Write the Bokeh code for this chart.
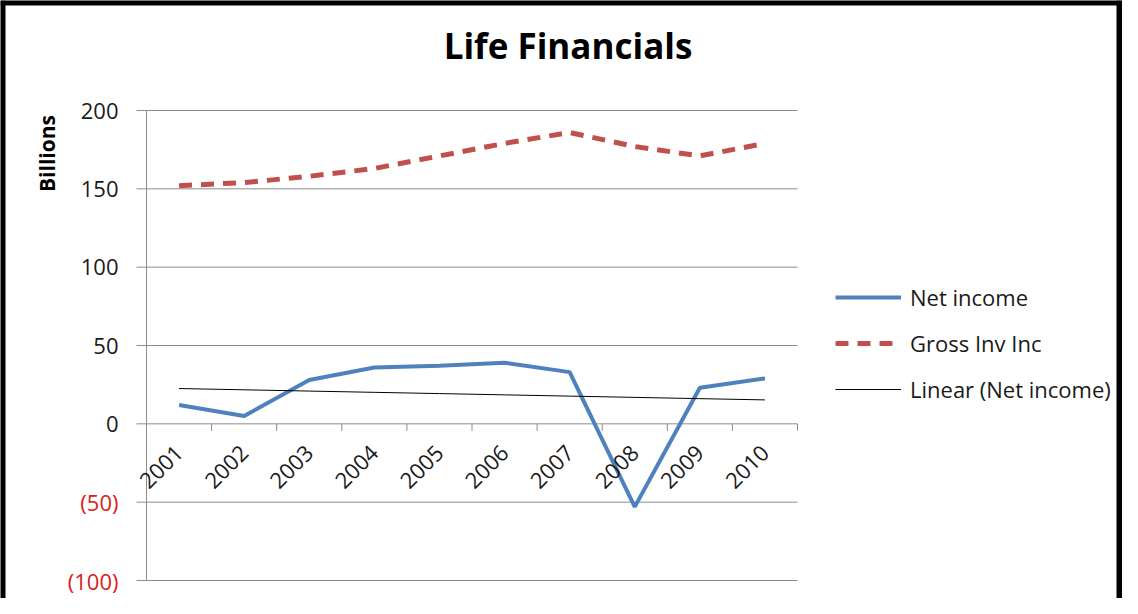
import numpy as np
from bokeh.plotting import figure
from bokeh.models import Range1d, LabelSet, Label, ColumnDataSource, Legend, LegendItem, Span
from bokeh.core.properties import value
from bokeh.embed import file_html
from bokeh.resources import INLINE

years = ["2001", "2002", "2003", "2004", "2005", "2006", "2007", "2008", "2009", "2010"]
net_income = [12, 5, 28, 36, 37, 39, 33, -53, 23, 29]
gross_inv_inc = [152, 154, 158, 163, 171, 179, 186, 177, 171, 179]
y_ticks = [-100, -50, 0, 50, 100, 150, 200]
y_tick_labels = ["(100)", "(50)", "0", "50", "100", "150", "200"]

FONT = "Open Sans"
GRID = "#8c8c8c"
TXT = "#1a1a1a"
NEG = "#d9211d"

# canvas geometry (pixels) -> plot area placement
W, H = 1122, 598
PA_LEFT, PA_RIGHT, PA_TOP, PA_BOTTOM = 146, 797, 110, 580
n = len(years)
ymin, ymax = min(y_ticks), max(y_ticks)
kx = (PA_RIGHT - PA_LEFT) / n
ky = (PA_BOTTOM - PA_TOP) / (ymax - ymin)
x_start = -PA_LEFT / kx
x_end = x_start + W / kx
y_end = ymax + PA_TOP / ky
y_start = y_end - H / ky

xpos = [i + 0.5 for i in range(n)]
slope, intercept = np.polyfit(xpos, net_income, 1)
trend = [slope * x + intercept for x in xpos]

p = figure(width=W, height=H, x_range=Range1d(x_start, x_end), y_range=Range1d(y_start, y_end),
           x_axis_type=None, y_axis_type=None, output_backend="svg", toolbar_location=None,
           min_border=0)
p.outline_line_color = None
p.grid.visible = False

# black chart border (top, left, right)
p.add_layout(Span(location=x_start, dimension="height", line_color="black", line_width=10))
p.add_layout(Span(location=x_end, dimension="height", line_color="black", line_width=12))
p.add_layout(Span(location=y_end, dimension="width", line_color="black", line_width=10))

# gridlines, y axis line, tick marks
p.segment(x0=0, x1=n, y0=y_ticks, y1=y_ticks, line_color=GRID, line_width=1)
p.ray(x=0, y=y_ticks, length=10, length_units="screen", angle=np.pi, line_color=GRID, line_width=1)
p.segment(x0=0, x1=0, y0=ymin, y1=ymax, line_color=GRID, line_width=1)
p.ray(x=list(range(1, n + 1)), y=0, length=7, length_units="screen", angle=-np.pi / 2,
      line_color=GRID, line_width=1)

# y tick labels (negatives in red)
ys = ColumnDataSource(dict(y=y_ticks, text=y_tick_labels,
                           color=[NEG if t < 0 else TXT for t in y_ticks]))
p.add_layout(LabelSet(x=0, y="y", text="text", source=ys, x_offset=-28, text_align="right",
                      text_baseline="middle", text_font=value(FONT), text_font_size="22px",
                      text_color="color"))

# x category labels
xs = ColumnDataSource(dict(x=xpos, text=years))
p.add_layout(LabelSet(x="x", y=0, text="text", source=xs, x_offset=0, y_offset=-25, angle=np.pi / 4,
                      text_align="right", text_baseline="middle", text_font=value(FONT),
                      text_font_size="22px", text_color=TXT))

r_net = p.line(xpos, net_income, line_color="#4F81BD", line_width=4)
r_gross = p.line(xpos, gross_inv_inc, line_color="#C0504D", line_width=5, line_dash="13 9")
r_trend = p.line(xpos, trend, line_color="black", line_width=1)

legend = Legend(items=[LegendItem(label="Net income", renderers=[r_net]),
                       LegendItem(label="Gross Inv Inc", renderers=[r_gross]),
                       LegendItem(label="Linear (Net income)", renderers=[r_trend])],
                location=(835, 194), orientation="vertical", glyph_width=66, glyph_height=20,
                label_height=20, spacing=16, padding=0, margin=0, label_standoff=9,
                border_line_color=None, background_fill_alpha=0,
                label_text_font=FONT, label_text_font_size="22px", label_text_color=TXT)
p.add_layout(legend)

p.add_layout(Label(x=n / 2, y=ymax, x_offset=96, y_offset=65, text="Life Financials",
                   text_align="center", text_baseline="middle", text_font=FONT,
                   text_font_size="35px", text_font_style="bold", text_color="black"))
p.add_layout(Label(x=0, y=ymax, x_offset=-100, y_offset=-43, text="Billions", angle=np.pi / 2,
                   text_align="center", text_baseline="middle", text_font=FONT,
                   text_font_size="21px", text_font_style="bold", text_color="black"))

open("out.html", "w").write(file_html(p, INLINE))
